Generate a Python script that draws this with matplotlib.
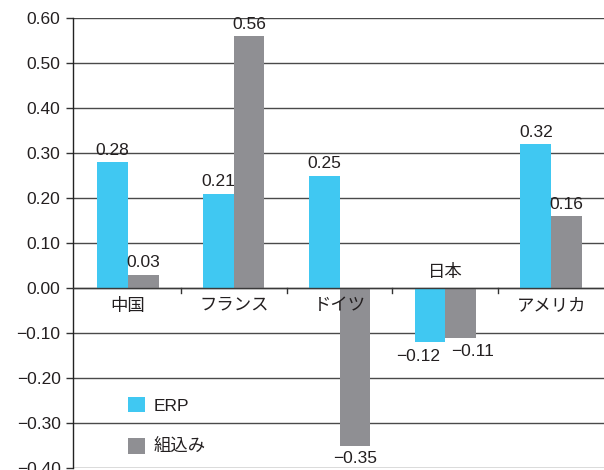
import matplotlib
matplotlib.use("Agg")
import matplotlib.pyplot as plt
import numpy as np

plt.rcParams['font.family'] = ['Liberation Sans', 'Noto Sans CJK JP', 'DejaVu Sans']

countries = ["中国", "フランス", "ドイツ", "日本", "アメリカ"]
erp = [0.28, 0.21, 0.25, -0.12, 0.32]
embedded = [0.03, 0.56, -0.35, -0.11, 0.16]
series_names = ["ERP", "組込み"]
yticks = [-0.40, -0.30, -0.20, -0.10, 0.00, 0.10, 0.20, 0.30, 0.40, 0.50, 0.60]

cyan = "#40C8F2"
gray = "#8F8F93"
ink = "#231F20"
FS = 12.5


def fmt(v):
    s = f"{abs(v):.2f}"
    return ("−" + s) if v < 0 else s


fig = plt.figure(figsize=(6.04, 4.70), dpi=100)
ax = fig.add_axes([73/604, 2/470, 531/604, 450/470])

x = np.arange(len(countries))
w = 0.29
b1 = ax.bar(x - w/2, erp, w, color=cyan, label=series_names[0], zorder=3)
b2 = ax.bar(x + w/2, embedded, w, color=gray, label=series_names[1], zorder=3)

ax.set_xlim(-0.52, len(countries) - 0.5)
ax.set_ylim(-0.40, 0.60)
ax.set_yticks(yticks)
ax.set_yticklabels([fmt(v) for v in yticks], fontsize=FS, color=ink)
ax.yaxis.grid(True, color="#4A4A4A", lw=1.0, zorder=0)
ax.axhline(0, color="#3A3A3A", lw=1.0, zorder=4)
ax.tick_params(axis="y", length=5, width=1, color="#333333", pad=4)

# category boundary ticks hanging from the zero line
for xb in np.arange(0.5, len(countries) - 0.5, 1.0):
    ax.plot([xb, xb], [0, -0.011], color="#333333", lw=1, zorder=4, clip_on=False)
ax.set_xticks([])

for s in ["top", "right", "bottom"]:
    ax.spines[s].set_visible(False)
ax.spines["left"].set_color("#222222")
ax.spines["left"].set_linewidth(1.0)

# value labels
for i in range(len(countries)):
    both_neg = erp[i] < 0 and embedded[i] < 0
    for rect, v, side in ((b1[i], erp[i], -1), (b2[i], embedded[i], 1)):
        cx = rect.get_x() + rect.get_width() / 2
        if v >= 0:
            ax.annotate(fmt(v), (cx, v), xytext=(0, 3), textcoords="offset points",
                        ha="center", va="bottom", fontsize=FS, color=ink, zorder=5)
        elif both_neg:
            # spread the two labels apart so they do not collide
            if side < 0:
                ax.annotate(fmt(v), (rect.get_x() + rect.get_width(), v), xytext=(-4, -5),
                            textcoords="offset points", ha="right", va="top",
                            fontsize=FS, color=ink, zorder=5)
            else:
                ax.annotate(fmt(v), (rect.get_x(), v), xytext=(4, -5),
                            textcoords="offset points", ha="left", va="top",
                            fontsize=FS, color=ink, zorder=5)
        else:
            ax.annotate(fmt(v), (cx, v), xytext=(0, -4), textcoords="offset points",
                        ha="center", va="top", fontsize=FS, color=ink, zorder=5)

# category names beside the zero line
for i, name in enumerate(countries):
    if erp[i] < 0 and embedded[i] < 0:
        ax.annotate(name, (i, 0), xytext=(0, 6), textcoords="offset points",
                    ha="center", va="bottom", fontsize=FS, color=ink, zorder=5)
    else:
        ax.annotate(name, (i, 0), xytext=(0, -7), textcoords="offset points",
                    ha="center", va="top", fontsize=FS, color=ink, zorder=5)

leg = ax.legend(loc="upper left", bbox_to_anchor=(0.1036, 0.158), frameon=False,
                borderaxespad=0, borderpad=0,
                prop={"size": FS}, handlelength=0.95, handleheight=1.0,
                handletextpad=0.5, labelspacing=1.42)
for t in leg.get_texts():
    t.set_color(ink)

fig.savefig("out.png", dpi=100)
